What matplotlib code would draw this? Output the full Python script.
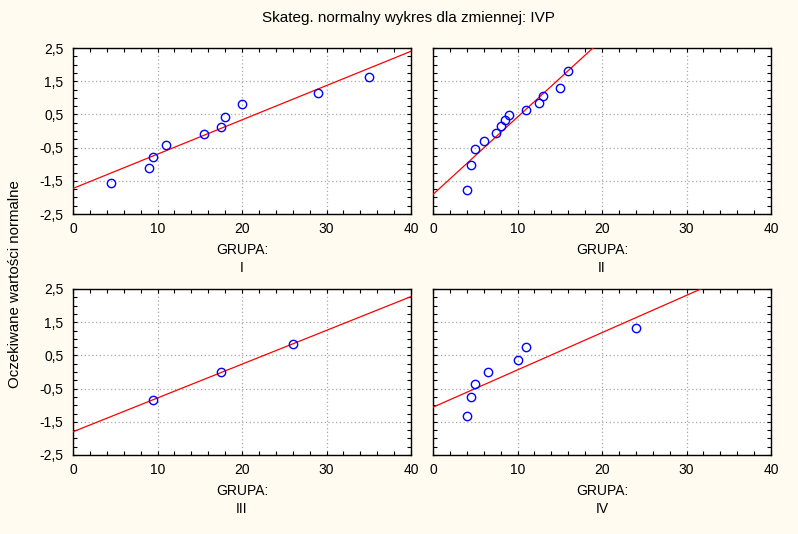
import matplotlib
matplotlib.use("Agg")
import matplotlib.pyplot as plt
from matplotlib.ticker import MultipleLocator, FixedLocator

plt.rcParams['font.family'] = ['Liberation Sans', 'DejaVu Sans']

# Data
groups = ["I", "II", "III", "IV"]
g1_x = [4.5, 9, 9.5, 11, 15.5, 17.5, 18, 20, 29, 35]
g1_y = [-1.58, -1.10, -0.77, -0.42, -0.09, 0.11, 0.43, 0.80, 1.13, 1.62]
g2_x = [4, 4.5, 5, 6, 7.5, 8, 8.5, 9, 11, 12.5, 13, 15, 16]
g2_y = [-1.77, -1.02, -0.54, -0.29, -0.06, 0.16, 0.32, 0.47, 0.62, 0.83, 1.04, 1.31, 1.80]
g3_x = [9.5, 17.5, 26]
g3_y = [-0.83, 0.0, 0.85]
g4_x = [4, 4.5, 5, 6.5, 10, 11, 24]
g4_y = [-1.32, -0.74, -0.36, 0.01, 0.37, 0.76, 1.34]
line_intercepts = [-1.73, -1.91, -1.80, -1.06]
line_slopes = [0.1033, 0.233, 0.1018, 0.1123]
x_ticks = [0, 10, 20, 30, 40]
y_ticks = [-2.5, -1.5, -0.5, 0.5, 1.5, 2.5]
y_ticklabels = ["-2,5", "-1,5", "-0,5", "0,5", "1,5", "2,5"]

xs = [g1_x, g2_x, g3_x, g4_x]
ys = [g1_y, g2_y, g3_y, g4_y]

W, H = 798, 534
bg = "#FFFBF0"
fig = plt.figure(figsize=(W / 100, H / 100), dpi=100, facecolor=bg)

# pixel boxes (left, top, right, bottom)
boxes = [(73, 48, 411, 214), (433, 48, 771, 214),
         (73, 289, 411, 455), (433, 289, 771, 455)]

for i, (l, t, r, b) in enumerate(boxes):
    ax = fig.add_axes([l / W, 1 - b / H, (r - l) / W, (b - t) / H])
    ax.set_facecolor("white")
    ax.set_xlim(0, 40)
    ax.set_ylim(-2.5, 2.5)
    ax.xaxis.set_major_locator(FixedLocator(x_ticks))
    ax.yaxis.set_major_locator(FixedLocator(y_ticks))
    ax.set_yticklabels(y_ticklabels if i % 2 == 0 else [])
    ax.set_xticklabels([str(v) for v in x_ticks])
    ax.xaxis.set_minor_locator(MultipleLocator(2))
    ax.yaxis.set_minor_locator(MultipleLocator(0.25))
    ax.tick_params(which="both", direction="in", top=True, right=True,
                   length=3, width=0.8, colors="black", labelsize=10)
    ax.tick_params(axis="x", which="major", pad=6)
    ax.tick_params(axis="y", which="major", pad=7)
    for s in ax.spines.values():
        s.set_linewidth(1.0)
        s.set_color("black")
    ax.grid(True, which="major", color="#A8A8A8", linestyle=(0, (1, 2)), linewidth=0.9)
    ax.set_axisbelow(True)
    lx = [0, 40]
    ly = [line_intercepts[i] + line_slopes[i] * v for v in lx]
    ax.plot(lx, ly, color="#FF0000", linewidth=0.9, zorder=3)
    ax.plot(xs[i], ys[i], linestyle="none", marker="o", markersize=6,
            markerfacecolor="none", markeredgecolor="#0000FF", markeredgewidth=1.0, zorder=4)
    cx = (l + r) / 2 / W
    fig.text(cx, 1 - (b + 36) / H, "GRUPA:", ha="center", va="center", fontsize=10)
    fig.text(cx, 1 - (b + 54) / H, groups[i], ha="center", va="center", fontsize=10)

fig.text(408 / W, 1 - 18 / H, "Skateg. normalny wykres dla zmiennej: IVP",
         ha="center", va="center", fontsize=11)
fig.text(15 / W, 1 - 284 / H, "Oczekiwane wartości normalne", rotation=90,
         ha="center", va="center", fontsize=10.8)

fig.savefig("out.png", dpi=100, facecolor=bg)
